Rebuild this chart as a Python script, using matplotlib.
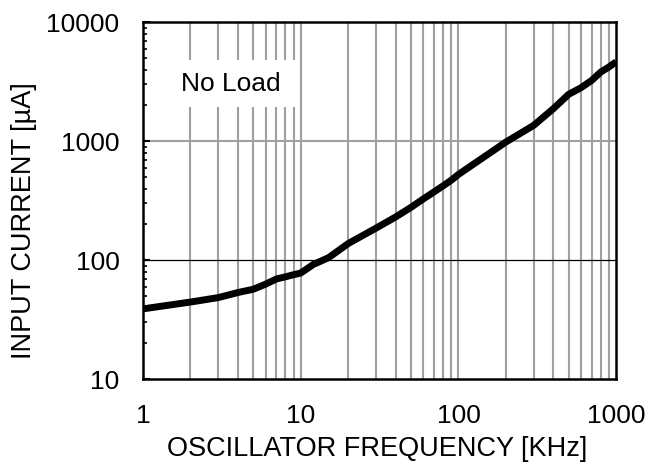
import matplotlib.pyplot as plt
from matplotlib.patches import Rectangle
from matplotlib.ticker import FixedLocator, NullFormatter

plt.rcParams['font.family'] = ['Liberation Sans', 'DejaVu Sans']

# oscillator frequency [kHz] vs input current [uA], no load
freq = [1, 2, 3, 4, 5, 6, 7, 8, 9, 10, 12, 15, 20, 30, 40, 50, 60, 70, 80, 90,
        100, 200, 300, 400, 500, 600, 700, 800, 900, 1000]
current = [39, 44.5, 48.5, 53.5, 57, 63, 69.5, 72.5, 75.5, 78, 92, 105, 138, 186,
           231, 278, 328, 375, 422, 470, 526, 985, 1360, 1880, 2480, 2820,
           3250, 3820, 4210, 4650]

x_ticks = [1, 10, 100, 1000]
y_ticks = [10, 100, 1000, 10000]

fig = plt.figure(figsize=(6.5, 4.63), dpi=100)
ax = fig.add_axes([0.22, 0.181, 0.728, 0.771])
ax.set_xscale('log')
ax.set_yscale('log')
ax.set_xlim(1, 1000)
ax.set_ylim(10, 10000)

# vertical grid at every 1..9 of each decade
vgrid = [m * 10 ** d for d in range(3) for m in range(1, 10)][1:]
for v in vgrid:
    ax.axvline(v, color='#a0a0a0', lw=1.5, zorder=1)
ax.axhline(1000, color='#a0a0a0', lw=1.5, zorder=1)
ax.axhline(100, color='black', lw=0.9, zorder=1)

ax.plot(freq, current, color='black', lw=5, solid_capstyle='butt', zorder=3)

# white box behind the label
ax.add_patch(Rectangle((0.046, 0.762), 0.28, 0.132, transform=ax.transAxes,
                       facecolor='white', edgecolor='none', zorder=2))
ax.text(3.6, 3000, 'No Load', fontsize=19, ha='center', va='center', zorder=2.5)

ax.xaxis.set_major_locator(FixedLocator(x_ticks))
ax.xaxis.set_minor_locator(FixedLocator([]))
ax.set_xticklabels([str(t) for t in x_ticks])
ax.yaxis.set_major_locator(FixedLocator(y_ticks))
ax.set_yticklabels([str(t) for t in y_ticks])
ax.yaxis.set_minor_locator(FixedLocator([m * 10 ** d for d in range(1, 4) for m in range(2, 10)]))
ax.yaxis.set_minor_formatter(NullFormatter())

ax.tick_params(axis='x', which='both', length=0, labelsize=19, pad=18)
ax.tick_params(axis='y', which='major', direction='in', length=5, width=1.5, labelsize=19, pad=17)
ax.tick_params(axis='y', which='minor', direction='in', length=3, width=1.2)

for s in ax.spines.values():
    s.set_linewidth(1.8)
    s.set_zorder(4)

ax.set_xlabel('OSCILLATOR FREQUENCY [KHz]', fontsize=19.5)
ax.set_ylabel('INPUT CURRENT [µA]', fontsize=19.5)
ax.xaxis.set_label_coords(0.494, -0.16)
ax.yaxis.set_label_coords(-0.224, 0.445)

fig.savefig('out.png', dpi=100)
